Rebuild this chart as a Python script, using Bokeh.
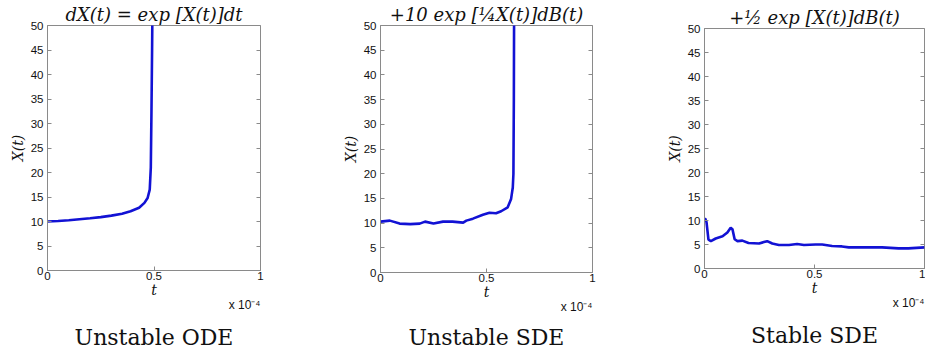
from bokeh.plotting import figure
from bokeh.layouts import row, column
from bokeh.models import Range1d, FixedTicker, LinearAxis, Title
from bokeh.embed import file_html
from bokeh.resources import INLINE

# ---- data (t in units of 1e-4) ----
t1 = [0, 0.05, 0.1, 0.15, 0.2, 0.25, 0.3, 0.35, 0.39, 0.43, 0.455, 0.47, 0.48, 0.485, 0.488, 0.491, 0.493]
x1 = [10.0, 10.1, 10.25, 10.45, 10.65, 10.9, 11.2, 11.6, 12.1, 12.8, 13.8, 14.8, 16.5, 21, 32, 45, 55]

t2 = [0, 0.044, 0.09, 0.14, 0.185, 0.21, 0.25, 0.295, 0.34, 0.39, 0.405, 0.436, 0.483, 0.514,
      0.545, 0.569, 0.6, 0.616, 0.624, 0.627, 0.629, 0.63, 0.631]
x2 = [10.3, 10.5, 9.9, 9.8, 9.9, 10.3, 9.9, 10.3, 10.3, 10.1, 10.5, 10.9, 11.7, 12.1,
      12.0, 12.4, 13.2, 14.9, 17.2, 20, 35, 50, 55]

t3 = [0, 0.003, 0.009, 0.018, 0.029, 0.051, 0.082, 0.104, 0.119, 0.127, 0.137, 0.15, 0.172, 0.2,
      0.248, 0.27, 0.285, 0.308, 0.338, 0.384, 0.421, 0.452, 0.505, 0.535, 0.58, 0.625, 0.656,
      0.731, 0.807, 0.882, 0.927, 1.0]
x3 = [10.3, 10.4, 9.7, 6.0, 5.7, 6.25, 6.7, 7.5, 8.5, 8.2, 6.1, 5.7, 5.8, 5.3,
      5.2, 5.5, 5.7, 5.2, 4.9, 4.9, 5.1, 4.9, 5.0, 5.0, 4.7, 4.6, 4.4,
      4.4, 4.4, 4.2, 4.2, 4.4]

y_ticks = [0, 5, 10, 15, 20, 25, 30, 35, 40, 45, 50]
x_ticks = [0, 0.5, 1]
x_tick_labels = ["0", "0.5", "1"]

titles = ["dX(t) = exp [X(t)]dt", "+10 exp [\u00bcX(t)]dB(t)", "+\u00bd exp [X(t)]dB(t)"]
captions = ["Unstable ODE", "Unstable SDE", "Stable SDE"]
scale_label = "x 10\u207b\u2074"

LINE = "#1212d4"
BOX = "#8a8a8a"
SANS = "Liberation Sans"
SERIF = "DejaVu Serif"
TXT = "#111111"


def panel(t, x, title, caption, fw, fh, bl, br, bt, bb, cap_standoff):
    p = figure(frame_width=fw, frame_height=fh, min_border_left=bl, min_border_right=br,
               min_border_top=bt, min_border_bottom=bb, output_backend="svg",
               toolbar_location=None, x_range=Range1d(0, 1), y_range=Range1d(0, 50))
    p.grid.visible = False
    p.outline_line_color = BOX
    p.outline_line_width = 1

    p.title.text = title
    p.title.align = "center"
    p.title.text_font = SERIF
    p.title.text_font_style = "italic"
    p.title.text_font_size = "18px"
    p.title.text_color = TXT
    p.title.standoff = 2
    p.title.offset = 0

    for ax in (p.xaxis[0], p.yaxis[0]):
        ax.major_tick_in = 4
        ax.major_tick_out = 0
        ax.minor_tick_line_color = None
        ax.axis_line_color = BOX
        ax.major_tick_line_color = BOX
        ax.major_label_text_font = SANS
        ax.major_label_text_font_size = "11.5px"
        ax.major_label_text_color = TXT
        ax.axis_label_text_font = SERIF
        ax.axis_label_text_font_style = "italic"
        ax.axis_label_text_font_size = "14px"
        ax.axis_label_text_color = TXT

    p.xaxis[0].ticker = FixedTicker(ticks=x_ticks)
    p.xaxis[0].major_label_overrides = dict(zip(x_ticks, x_tick_labels))
    p.xaxis[0].major_label_standoff = 1
    p.xaxis[0].axis_label = "t"
    p.xaxis[0].axis_label_standoff = -1

    p.yaxis[0].ticker = FixedTicker(ticks=y_ticks)
    p.yaxis[0].major_label_standoff = 4
    p.yaxis[0].axis_label = "X(t)"
    p.yaxis[0].axis_label_standoff = 2

    # inward ticks on the right edge (MATLAB box), without labels
    ra = LinearAxis(ticker=FixedTicker(ticks=y_ticks), major_tick_in=4, major_tick_out=0,
                    major_label_overrides={tk: "" for tk in y_ticks}, major_label_standoff=0,
                    axis_line_color=None, minor_tick_line_color=None,
                    major_tick_line_color=BOX)
    p.add_layout(ra, "right")

    p.line(t, x, line_color=LINE, line_width=2.6)

    # "x 10^-4" multiplier, right aligned under the x axis
    mult = Title(text=scale_label, align="right", text_font=SANS, text_font_style="normal",
                 text_font_size="12px", text_color=TXT, standoff=-22)
    p.add_layout(mult, "below")

    cap = Title(text=caption, align="center", text_font=SERIF, text_font_style="normal",
                text_font_size="22px", text_color=TXT, standoff=cap_standoff)
    p.add_layout(cap, "below")
    return p


p1 = panel(t1, x1, titles[0], captions[0], 213, 245, 47, 49, 23, 83, 44)
p2 = panel(t2, x2, titles[1], captions[1], 212, 247, 71, 24, 24, 80, 41)
p3 = panel(t3, x3, titles[2], captions[2], 220, 240, 88, 1, 28, 83, 44)

layout = row(column(p1), column(p2), column(p3))
open("out.html", "w").write(file_html(layout, INLINE))
